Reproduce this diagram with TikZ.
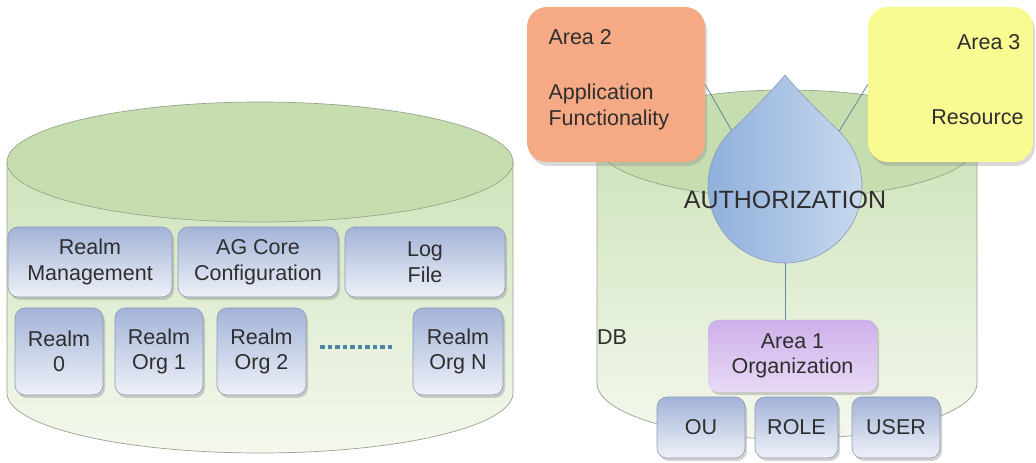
\documentclass[tikz,border=0pt]{standalone}
\usepackage{fontspec}
\setmainfont{Liberation Sans}
\usetikzlibrary{shadows}
\definecolor{dbtop}{HTML}{C6DDB0}
\definecolor{dbside}{HTML}{CFE3BB}
\definecolor{dbbottom}{HTML}{F4F8EE}
\definecolor{dbline}{HTML}{98A48E}
\definecolor{boxtop}{HTML}{A3B3D8}
\definecolor{boxbottom}{HTML}{EEF1F8}
\definecolor{boxline}{HTML}{8C9AB8}
\definecolor{txt}{HTML}{2E2E2E}
\definecolor{areaorange}{HTML}{F5A985}
\definecolor{areayellow}{HTML}{FAFA93}
\definecolor{lilactop}{HTML}{CDB0EA}
\definecolor{lilacbottom}{HTML}{E8DAF5}
\definecolor{droplight}{HTML}{CBDBEE}
\definecolor{dropdark}{HTML}{8DAEDC}
\definecolor{linkline}{HTML}{5E8A9A}
\definecolor{dotblue}{HTML}{4F80A8}
\tikzset{
  txtfont/.style={font=\fontsize{21.5}{25.5}\selectfont, text=txt},
  bluebox/.style={txtfont, align=center, rounded corners=10pt, draw=boxline, line width=0.6pt,
    top color=boxtop, bottom color=boxbottom, inner sep=0pt,
    drop shadow={opacity=0.35, shadow xshift=2pt, shadow yshift=-3pt}},
  areabox/.style={rounded corners=20pt, draw=none, inner sep=0pt,
    drop shadow={opacity=0.3, shadow xshift=2pt, shadow yshift=-4pt}},
  link/.style={draw=linkline, line width=0.8pt},
}
\begin{document}
\begin{tikzpicture}[x=1pt, y=1pt]
\useasboundingbox (0,0) rectangle (1036,463);

% ---- left database cylinder ----
\path[top color=dbside, bottom color=dbbottom, draw=dbline, line width=0.7pt]
  (7,301) -- (7,70) arc[start angle=180, end angle=360, x radius=253, y radius=60]
  -- (513,301) -- cycle;
\path[fill=dbtop, draw=dbline, line width=0.7pt]
  (260,301) ellipse[x radius=253, y radius=60];

% first row of blocks
\node[bluebox, minimum width=164pt, minimum height=70pt] (rm)  at (90,201)  {Realm\\Management};
\node[bluebox, minimum width=160pt, minimum height=70pt] (ag)  at (258,201) {AG Core\\Configuration};
\node[bluebox, minimum width=160pt, minimum height=70pt] (log) at (425,201) {Log\\File};
% realms
\node[bluebox, minimum width=88pt, minimum height=87pt] (r0) at (59,111.5)   {Realm\\0};
\node[bluebox, minimum width=88pt, minimum height=87pt] (r1) at (159,111.5)  {Realm\\Org 1};
\node[bluebox, minimum width=89pt, minimum height=87pt] (r2) at (261.5,111.5) {Realm\\Org 2};
\node[bluebox, minimum width=90pt, minimum height=87pt] (rn) at (458,111.5)  {Realm\\Org N};
\coordinate (dotsA) at (320,116);
\coordinate (dotsB) at (393,116);
\draw[dotblue, line width=3.5pt, dash pattern=on 4.5pt off 3pt] (dotsA) -- (dotsB);

% ---- right database cylinder ----
\path[top color=dbside, bottom color=dbbottom, draw=dbline, line width=0.7pt]
  (597,319) -- (597,80) arc[start angle=180, end angle=360, x radius=190, y radius=56]
  -- (977,319) -- cycle;
\path[fill=dbtop, draw=dbline, line width=0.7pt]
  (787,319) ellipse[x radius=190, y radius=54];

% areas 2 and 3
\node[areabox, fill=areaorange, minimum width=178pt, minimum height=155pt] (a2) at (616,378.5) {};
\node[areabox, fill=areayellow, minimum width=165pt, minimum height=155pt] (a3) at (950.5,378.5) {};
\node[txtfont, anchor=west] (a2t) at (545,426) {Area 2};
\node[txtfont, anchor=west, align=left] (a2f) at (545,356) {Application\\Functionality};
\node[txtfont, anchor=east] (a3t) at (1024,421) {Area 3};
\node[txtfont, anchor=east] (a3r) at (1027,346) {Resource};

% authorization drop
\coordinate (dc) at (785,277);
\coordinate (dropL) at (733,330);
\coordinate (dropR) at (838,330);
\coordinate (dropB) at (785,200);
\draw[link] (a2.east) -- (dropL);
\draw[link] (a3.west) -- (dropR);
\path[left color=dropdark, right color=droplight, draw=boxline, line width=0.6pt]
  (785,388) .. controls (800,370) and (820,350) .. ([shift={(44.4:77)}]dc)
  arc[start angle=44.4, end angle=-224.4, radius=77]
  .. controls (750,350) and (770,370) .. cycle;
\node[font=\fontsize{25}{28}\selectfont, text=txt] (auth) at (785,263) {AUTHORIZATION};
\node[txtfont] (db) at (612,126) {DB};

% area 1 and its members
\node[bluebox, top color=lilactop, bottom color=lilacbottom, draw=none,
      minimum width=169pt, minimum height=72pt] (a1) at (792.5,107) {Area 1\\Organization};
\draw[link] (dropB) -- (a1.north -| dropB);
\node[bluebox, minimum width=88pt, minimum height=61pt] (ou)   at (701,35.5)   {OU};
\node[bluebox, minimum width=83pt, minimum height=61pt] (role) at (796.5,35.5) {ROLE};
\node[bluebox, minimum width=88pt, minimum height=61pt] (user) at (896,35.5)   {USER};
\end{tikzpicture}
\end{document}
